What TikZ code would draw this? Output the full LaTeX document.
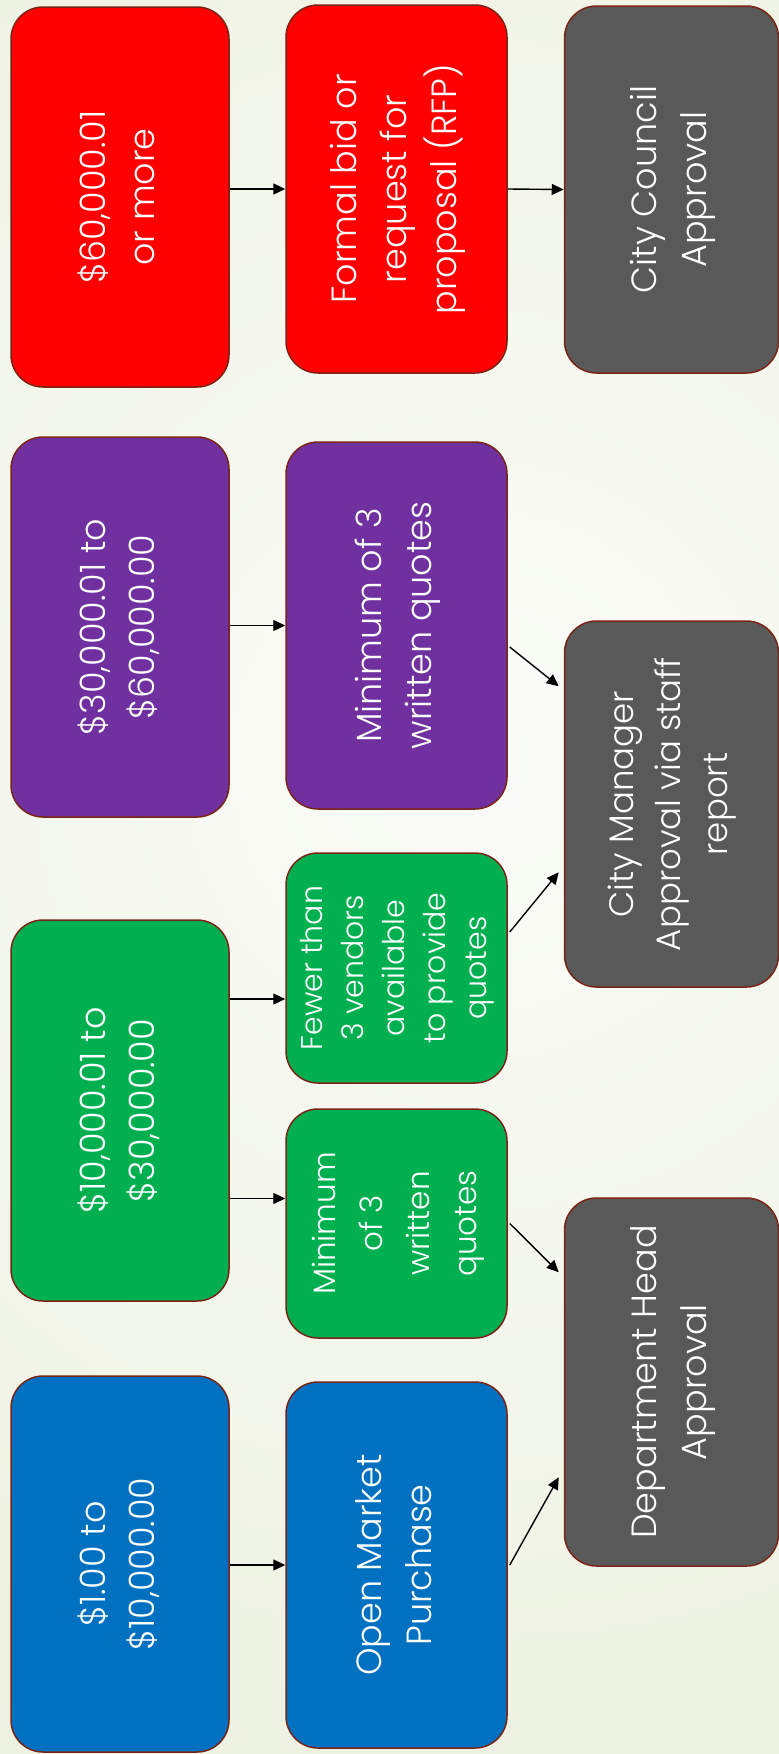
\documentclass[tikz,border=0pt]{standalone}
\usepackage{fontspec}
\IfFontExistsTF{Poppins Light}{\setmainfont{Poppins Light}}{\setmainfont{Poppins}}
\usetikzlibrary{arrows.meta,calc}
\definecolor{cred}{HTML}{FF0000}
\definecolor{cpurple}{HTML}{7030A0}
\definecolor{cgreen}{HTML}{00B050}
\definecolor{cblue}{HTML}{0070C0}
\definecolor{cgray}{HTML}{595959}
\definecolor{bord}{HTML}{7A2418}
\definecolor{bgout}{HTML}{E2E9CE}
\definecolor{bgin}{HTML}{FBFCF8}
\newcommand{\vtext}[1]{\rotatebox{90}{\begin{tabular}{@{}c@{}}#1\end{tabular}}}
\tikzset{
  box/.style n args={3}{draw=bord, line width=1.5pt, rounded corners=32pt, inner sep=0pt,
    fill=#1, text=white, minimum width=#2, minimum height=#3,
    font=\fontsize{35}{50}\selectfont},
  arr/.style={draw=black, line width=1.4pt, -{Triangle[length=12pt,width=11pt]}},
}
\begin{document}
\begin{tikzpicture}[x=1pt,y=-1pt]
\useasboundingbox (0,0) rectangle (779,1754);
\begin{scope}
\clip (0,0) rectangle (779,1754);
\shade[inner color=bgin, outer color=bgout] (480-1900,760-1900) rectangle (480+1900,760+1900);
\end{scope}
% column 1
\node[box={cred}{218pt}{380pt}] (r1) at (120,197) {\vtext{\$60,000.01\\or more}};
\node[box={cpurple}{218pt}{380pt}] (p1) at (120,627) {\vtext{\$30,000.01 to\\\$60,000.00}};
\node[box={cgreen}{218pt}{381pt}] (g1) at (120,1110.5) {\vtext{\$10,000.01 to\\\$30,000.00}};
\node[box={cblue}{218pt}{376pt}] (b1) at (120,1564) {\vtext{\$1.00 to\\\$10,000.00}};
% column 2
\node[box={cred}{221pt}{368pt}] (r2) at (396.5,189) {\vtext{Formal bid or\\request for\\proposal (RFP)}};
\node[box={cpurple}{221pt}{367pt}] (p2) at (396.5,625.5) {\vtext{Minimum of 3\\written quotes}};
\node[box={cgreen}{221pt}{230pt}, font=\fontsize{30}{41}\selectfont] (f) at (396.5,968) {\vtext{Fewer than\\3 vendors\\available\\to provide\\quotes}};
\node[box={cgreen}{221pt}{229pt}, font=\fontsize{31}{47}\selectfont] (m) at (396.5,1223.5) {\vtext{Minimum\\of 3\\written\\quotes}};
\node[box={cblue}{221pt}{366pt}] (o) at (396.5,1565) {\vtext{Open Market\\Purchase}};
% column 3
\node[box={cgray}{214pt}{367pt}] (c) at (671.5,189.5) {\vtext{City Council\\Approval}};
\node[box={cgray}{214pt}{366pt}, font=\fontsize{34}{47}\selectfont] (cm) at (671.5,804) {\vtext{City Manager\\Approval via staff\\report}};
\node[box={cgray}{214pt}{368pt}] (d) at (671.5,1382) {\vtext{Department Head\\Approval}};
% connectors
\draw[arr] (r1.east |- r2.west) -- (r2.west);
\draw[arr] (r2.east) -- (c.west);
\draw[arr] (p1.east |- p2.west) -- (p2.west);
\draw[arr] ([yshift=-31pt]f.west -| g1.east) -- ([yshift=-31pt]f.west);
\draw[arr] ([yshift=25pt]m.west -| g1.east) -- ([yshift=25pt]m.west);
\draw[arr] (b1.east |- o.west) -- (o.west);
\draw[arr] ($(p2.east)+(2,21.5)$) -- ($(cm.north west)+(-5,66)$);
\draw[arr] ($(f.east)+(2,-36)$) -- ($(cm.north west)+(-5,252)$);
\draw[arr] ($(m.east)+(2,0)$) -- ($(d.north west)+(-5,75)$);
\draw[arr] ($(o.east)+(2,0)$) -- ($(d.north west)+(-5,280)$);
\end{tikzpicture}
\end{document}
